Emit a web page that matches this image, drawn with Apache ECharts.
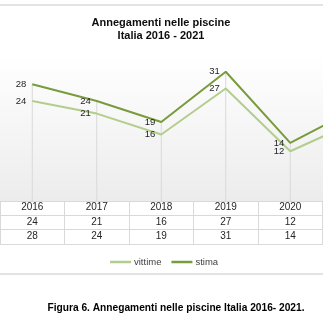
<!DOCTYPE html>
<html>
<head>
<meta charset="utf-8">
<script src="https://cdn.jsdelivr.net/npm/echarts@6/dist/echarts.min.js"></script>
<style>
  html, body { margin: 0; padding: 0; background: #ffffff; }
  #frame { width: 323px; height: 323px; overflow: hidden; position: relative; }
  #chart { width: 387px; height: 323px; position: absolute; left: 0; top: 0; }
</style>
</head>
<body>
<div id="frame"><div id="chart"></div></div>
<script>
// Drownings in swimming pools, Italy 2016-2021
const years = ['2016', '2017', '2018', '2019', '2020', '2021'];
const vittime = [24, 21, 16, 27, 12, 19];
const stima = [28, 24, 19, 31, 14, 22];

const seriesNames = ['vittime', 'stima'];
const colVittime = '#b3cd8d';
const colStima = '#789b3c';

const FONT = '"Liberation Sans", Arial, sans-serif';

const chart = echarts.init(document.getElementById('chart'), null, { renderer: 'canvas' });

const labelStyle = {
  show: true,
  position: 'left',
  distance: 6,
  fontSize: 9.5,
  fontFamily: FONT,
  color: '#1f1f1f'
};

chart.setOption({
  animation: false,
  backgroundColor: '#ffffff',
  grid: {
    left: 0,
    right: 0,
    top: 55,
    bottom: 121.5,
    show: true,
    borderWidth: 0,
    backgroundColor: {
      type: 'linear', x: 0, y: 0, x2: 0, y2: 1,
      colorStops: [
        { offset: 0, color: '#ffffff' },
        { offset: 1, color: '#ececec' }
      ]
    }
  },
  legend: {
    left: 105,
    top: 252,
    itemWidth: 21,
    itemHeight: 2.5,
    itemGap: 10,
    icon: 'rect',
    data: seriesNames,
    textStyle: { fontSize: 9.5, fontFamily: FONT, color: '#404040', padding: [0, 0, 0, -2] }
  },
  xAxis: {
    type: 'category',
    data: years,
    boundaryGap: true,
    axisLine: { show: true, lineStyle: { color: '#d9d9d9', width: 1 } },
    axisTick: { show: true, interval: 0, length: 43, lineStyle: { color: '#d9d9d9', width: 1 } },
    axisLabel: {
      interval: 0,
      margin: -1,
      fontSize: 10,
      fontFamily: FONT,
      color: '#262626',
      lineHeight: 14.4,
      formatter: function (value, idx) {
        return value + '\n' + vittime[idx] + '\n' + stima[idx];
      }
    },
    splitLine: { show: false }
  },
  yAxis: {
    type: 'value',
    min: 0,
    max: 35,
    show: false,
    splitLine: { show: false }
  },
  series: [
    {
      // drop lines from the highest point to the axis
      name: 'drop',
      type: 'bar',
      data: stima,
      barWidth: 1,
      silent: true,
      z: 1,
      itemStyle: { color: '#d9d9d9' },
      legendHoverLink: false
    },
    {
      name: 'vittime',
      type: 'line',
      data: vittime,
      symbol: 'circle',
      symbolSize: 0,
      showSymbol: true,
      z: 3,
      lineStyle: { color: colVittime, width: 2 },
      itemStyle: { color: colVittime },
      label: labelStyle
    },
    {
      name: 'stima',
      type: 'line',
      data: stima,
      symbol: 'circle',
      symbolSize: 0,
      showSymbol: true,
      z: 4,
      lineStyle: { color: colStima, width: 2 },
      itemStyle: { color: colStima },
      label: labelStyle
    }
  ],
  graphic: [
    // chart frame edges
    { type: 'line', shape: { x1: 0, y1: 5, x2: 387, y2: 5 }, style: { stroke: '#e3e3e3', lineWidth: 2 }, silent: true },
    { type: 'line', shape: { x1: 0, y1: 274, x2: 387, y2: 274 }, style: { stroke: '#e3e3e3', lineWidth: 2 }, silent: true },
    // data table row rules
    { type: 'line', shape: { x1: 0, y1: 215.5, x2: 387, y2: 215.5 }, style: { stroke: '#d9d9d9', lineWidth: 1 }, silent: true },
    { type: 'line', shape: { x1: 0, y1: 229.5, x2: 387, y2: 229.5 }, style: { stroke: '#d9d9d9', lineWidth: 1 }, silent: true },
    { type: 'line', shape: { x1: 0, y1: 244.5, x2: 387, y2: 244.5 }, style: { stroke: '#d9d9d9', lineWidth: 1 }, silent: true },
    // title
    {
      type: 'text',
      x: 161, y: 17,
      style: {
        text: 'Annegamenti nelle piscine\nItalia 2016 - 2021',
        font: 'bold 11px ' + FONT,
        fill: '#0d0d0d',
        align: 'center',
        verticalAlign: 'top',
        lineHeight: 12.5
      },
      silent: true
    },
    // figure caption
    {
      type: 'text',
      x: 176, y: 303,
      style: {
        text: 'Figura 6. Annegamenti nelle piscine Italia 2016- 2021.',
        font: 'bold 10.2px ' + FONT,
        fill: '#000000',
        align: 'center',
        verticalAlign: 'top'
      },
      silent: true
    }
  ]
});
</script>
</body>
</html>
